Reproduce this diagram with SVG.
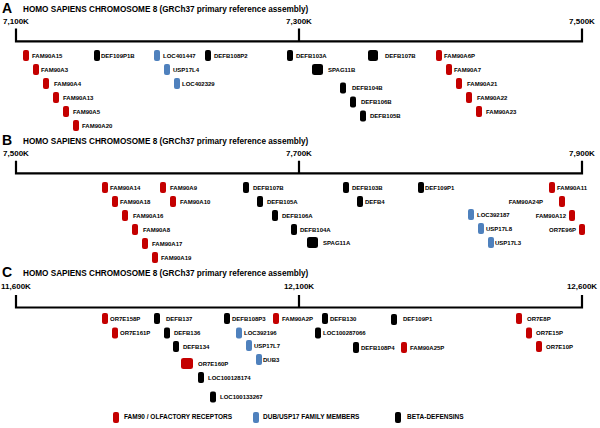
<svg xmlns="http://www.w3.org/2000/svg" width="600" height="428" viewBox="0 0 600 428">
<style>
text{font-family:"Liberation Sans",Arial,sans-serif;font-weight:bold;fill:#000}
.pl{font-size:14px}
.ti{font-size:8.2px}
.ax{font-size:8px;text-anchor:middle}
.lb{font-size:6px}
.lg{font-size:6.5px}
.e{text-anchor:end}
.axl{fill:none;stroke:#000;stroke-width:2.2}
.r{fill:#c40000}
.b{fill:#4f81bd}
.k{fill:#000}
rect{rx:2;ry:2}
</style>
<rect width="600" height="428" fill="#fff" style="rx:0"/>
<g id="axes">
<text class="pl" x="2" y="13">A</text>
<text class="ti" x="23" y="12">HOMO SAPIENS CHROMOSOME 8 (GRCh37 primary reference assembly)</text>
<text class="ax" x="16" y="24">7,100K</text><text class="ax" x="299" y="24">7,300K</text><text class="ax" x="582" y="24">7,500K</text>
<path class="axl" d="M16,28.5V41.3H582V28.5M299,28.5V41.3"/>
<text class="pl" x="2" y="145">B</text>
<text class="ti" x="23" y="144">HOMO SAPIENS CHROMOSOME 8 (GRCh37 primary reference assembly)</text>
<text class="ax" x="16" y="156">7,500K</text><text class="ax" x="299" y="156">7,700K</text><text class="ax" x="582" y="156">7,900K</text>
<path class="axl" d="M16,160.7V173.3H582V160.7M299,160.7V173.3"/>
<text class="pl" x="2" y="277">C</text>
<text class="ti" x="23" y="276">HOMO SAPIENS CHROMOSOME 8 (GRCh37 primary reference assembly)</text>
<text class="ax" x="16" y="289">11,600K</text><text class="ax" x="299" y="289">12,100K</text><text class="ax" x="582" y="289">12,600K</text>
<path class="axl" d="M16,295V307.5H582V295M299,295V307.5"/>
</g>
<g id="connectors"></g>
<!-- Panel A -->
<g id="a-FAM90A15"><rect class="r" x="23" y="50" width="6" height="11"/><text class="lb" x="32" y="57.5">FAM90A15</text></g>
<g id="a-FAM90A3"><rect class="r" x="33" y="64" width="6" height="11"/><text class="lb" x="41" y="71.5">FAM90A3</text></g>
<g id="a-FAM90A4"><rect class="r" x="43" y="78" width="6" height="11"/><text class="lb" x="54" y="85.5">FAM90A4</text></g>
<g id="a-FAM90A13"><rect class="r" x="53" y="92" width="6" height="11"/><text class="lb" x="63" y="99.5">FAM90A13</text></g>
<g id="a-FAM90A5"><rect class="r" x="63" y="106" width="6" height="11"/><text class="lb" x="73" y="113.5">FAM90A5</text></g>
<g id="a-FAM90A20"><rect class="r" x="73" y="120" width="6" height="11"/><text class="lb" x="82" y="127.5">FAM90A20</text></g>
<g id="a-DEF109P1B"><rect class="k" x="94" y="50" width="6" height="11"/><text class="lb" x="101" y="57.5">DEF109P1B</text></g>
<g id="a-LOC401447"><rect class="b" x="154" y="50" width="6" height="11"/><text class="lb" x="163" y="57.5">LOC401447</text></g>
<g id="a-USP17L4"><rect class="b" x="164" y="64" width="6" height="11"/><text class="lb" x="173" y="71.5">USP17L4</text></g>
<g id="a-LOC402329"><rect class="b" x="174" y="78" width="6" height="11"/><text class="lb" x="182" y="85.5">LOC402329</text></g>
<g id="a-DEFB108P2"><rect class="k" x="205" y="50" width="6" height="11"/><text class="lb" x="214" y="57.5">DEFB108P2</text></g>
<g id="a-DEFB103A"><rect class="k" x="287" y="50" width="6" height="11"/><text class="lb" x="296" y="57.5">DEFB103A</text></g>
<g id="a-SPAG11B"><rect class="k" x="312" y="64" width="11" height="11" style="rx:2.5"/><text class="lb" x="328" y="71.5">SPAG11B</text></g>
<g id="a-DEFB104B"><rect class="k" x="340" y="82.5" width="6" height="11"/><text class="lb" x="352" y="90">DEFB104B</text></g>
<g id="a-DEFB106B"><rect class="k" x="350" y="96.5" width="6" height="11"/><text class="lb" x="361" y="104">DEFB106B</text></g>
<g id="a-DEFB105B"><rect class="k" x="360" y="110.5" width="6" height="11"/><text class="lb" x="370" y="118">DEFB105B</text></g>
<g id="a-DEFB107B"><rect class="k" x="368" y="50" width="10" height="11" style="rx:2.5"/><text class="lb" x="385" y="57.5">DEFB107B</text></g>
<g id="a-FAM90A6P"><rect class="r" x="436" y="50" width="6" height="11"/><text class="lb" x="444" y="57.5">FAM90A6P</text></g>
<g id="a-FAM90A7"><rect class="r" x="446" y="64" width="6" height="11"/><text class="lb" x="454" y="71.5">FAM90A7</text></g>
<g id="a-FAM90A21"><rect class="r" x="456" y="78" width="6" height="11"/><text class="lb" x="467" y="85.5">FAM90A21</text></g>
<g id="a-FAM90A22"><rect class="r" x="466" y="92" width="6" height="11"/><text class="lb" x="477" y="99.5">FAM90A22</text></g>
<g id="a-FAM90A23"><rect class="r" x="476" y="106" width="6" height="11"/><text class="lb" x="486" y="113.5">FAM90A23</text></g>
<!-- Panel B -->
<g id="b-FAM90A14"><rect class="r" x="102" y="182" width="6" height="11"/><text class="lb" x="110" y="189.5">FAM90A14</text></g>
<g id="b-FAM90A18"><rect class="r" x="112" y="196" width="6" height="11"/><text class="lb" x="120" y="203.5">FAM90A18</text></g>
<g id="b-FAM90A16"><rect class="r" x="122" y="210" width="6" height="11"/><text class="lb" x="133" y="217.5">FAM90A16</text></g>
<g id="b-FAM90A8"><rect class="r" x="132" y="224" width="6" height="11"/><text class="lb" x="143" y="231.5">FAM90A8</text></g>
<g id="b-FAM90A17"><rect class="r" x="142" y="238" width="6" height="11"/><text class="lb" x="152" y="245.5">FAM90A17</text></g>
<g id="b-FAM90A19"><rect class="r" x="152" y="252" width="6" height="11"/><text class="lb" x="161" y="259.5">FAM90A19</text></g>
<g id="b-FAM90A9"><rect class="r" x="160" y="182" width="6" height="11"/><text class="lb" x="170" y="189.5">FAM90A9</text></g>
<g id="b-FAM90A10"><rect class="r" x="170" y="196" width="6" height="11"/><text class="lb" x="180" y="203.5">FAM90A10</text></g>
<g id="b-DEFB107B"><rect class="k" x="243" y="182" width="6" height="11"/><text class="lb" x="253" y="189.5">DEFB107B</text></g>
<g id="b-DEFB105A"><rect class="k" x="257" y="196" width="6" height="11"/><text class="lb" x="267" y="203.5">DEFB105A</text></g>
<g id="b-DEFB106A"><rect class="k" x="272" y="210" width="6" height="11"/><text class="lb" x="282" y="217.5">DEFB106A</text></g>
<g id="b-DEFB104A"><rect class="k" x="291" y="224" width="6" height="11"/><text class="lb" x="300" y="231.5">DEFB104A</text></g>
<g id="b-SPAG11A"><rect class="k" x="307" y="237" width="11" height="11" style="rx:2.5"/><text class="lb" x="323" y="244.5">SPAG11A</text></g>
<g id="b-DEFB103B"><rect class="k" x="343" y="182" width="6" height="11"/><text class="lb" x="352" y="189.5">DEFB103B</text></g>
<g id="b-DEFB4"><rect class="k" x="357" y="196" width="6" height="11"/><text class="lb" x="365" y="203.5">DEFB4</text></g>
<g id="b-DEF109P1"><rect class="k" x="418" y="182" width="6" height="11"/><text class="lb" x="425" y="189.5">DEF109P1</text></g>
<g id="b-LOC392187"><rect class="b" x="468" y="209" width="6" height="11"/><text class="lb" x="477" y="216.5">LOC392187</text></g>
<g id="b-USP17L8"><rect class="b" x="478" y="223" width="6" height="11"/><text class="lb" x="486" y="230.5">USP17L8</text></g>
<g id="b-USP17L3"><rect class="b" x="488" y="237" width="6" height="11"/><text class="lb" x="495" y="244.5">USP17L3</text></g>
<g id="b-FAM90A11"><rect class="r" x="549" y="182" width="6" height="11"/><text class="lb" x="557" y="189.5">FAM90A11</text></g>
<g id="b-FAM90A24P"><rect class="r" x="559" y="196" width="6" height="11"/><text class="lb e" x="543" y="203.5">FAM90A24P</text></g>
<g id="b-FAM90A12"><rect class="r" x="569" y="210" width="6" height="11"/><text class="lb e" x="566" y="217.5">FAM90A12</text></g>
<g id="b-OR7E96P"><rect class="r" x="579" y="224" width="6" height="11"/><text class="lb e" x="576" y="231.5">OR7E96P</text></g>
<!-- Panel C -->
<g id="c-OR7E158P"><rect class="r" x="102" y="313" width="6" height="11"/><text class="lb" x="110" y="320.5">OR7E158P</text></g>
<g id="c-OR7E161P"><rect class="r" x="112" y="327.5" width="6" height="11"/><text class="lb" x="120" y="335">OR7E161P</text></g>
<g id="c-DEFB137"><rect class="k" x="154" y="313" width="6" height="11"/><text class="lb" x="166" y="320.5">DEFB137</text></g>
<g id="c-DEFB136"><rect class="k" x="164" y="327.5" width="6" height="11"/><text class="lb" x="174" y="335">DEFB136</text></g>
<g id="c-DEFB134"><rect class="k" x="173" y="341" width="6" height="11"/><text class="lb" x="183" y="348.5">DEFB134</text></g>
<g id="c-OR7E160P"><rect class="r" x="181" y="358" width="12" height="11" style="rx:2.5"/><text class="lb" x="198" y="365.5">OR7E160P</text></g>
<g id="c-LOC100128174"><rect class="k" x="198" y="372" width="6" height="11"/><text class="lb" x="208" y="379.5">LOC100128174</text></g>
<g id="c-LOC100133267"><rect class="k" x="210" y="391.5" width="6" height="11"/><text class="lb" x="220" y="399">LOC100133267</text></g>
<g id="c-DEFB108P3"><rect class="k" x="224" y="313" width="6" height="11"/><text class="lb" x="232" y="320.5">DEFB108P3</text></g>
<g id="c-LOC392196"><rect class="b" x="236" y="327.5" width="6" height="11"/><text class="lb" x="244" y="335">LOC392196</text></g>
<g id="c-USP17L7"><rect class="b" x="246" y="340" width="6" height="11"/><text class="lb" x="254" y="347.5">USP17L7</text></g>
<g id="c-DUB3"><rect class="b" x="256" y="354" width="6" height="11"/><text class="lb" x="263" y="361.5">DUB3</text></g>
<g id="c-FAM90A2P"><rect class="r" x="273" y="313" width="6" height="11"/><text class="lb" x="282" y="320.5">FAM90A2P</text></g>
<g id="c-DEFB130"><rect class="k" x="322" y="313" width="6" height="11"/><text class="lb" x="330" y="320.5">DEFB130</text></g>
<g id="c-LOC100287066"><rect class="k" x="315" y="327.5" width="6" height="11"/><text class="lb" x="323" y="335">LOC100287066</text></g>
<g id="c-DEFB108P4"><rect class="k" x="353" y="342" width="6" height="11"/><text class="lb" x="361" y="349.5">DEFB108P4</text></g>
<g id="c-DEF109P1"><rect class="k" x="391" y="314" width="6" height="11"/><text class="lb" x="403" y="321">DEF109P1</text></g>
<g id="c-FAM90A25P"><rect class="r" x="401" y="342" width="6" height="11"/><text class="lb" x="410" y="349.5">FAM90A25P</text></g>
<g id="c-OR7E8P"><rect class="r" x="516" y="313" width="6" height="11"/><text class="lb" x="527" y="320.5">OR7E8P</text></g>
<g id="c-OR7E15P"><rect class="r" x="526" y="327.5" width="6" height="11"/><text class="lb" x="536" y="335">OR7E15P</text></g>
<g id="c-OR7E10P"><rect class="r" x="536" y="341" width="6" height="11"/><text class="lb" x="546" y="348.5">OR7E10P</text></g>
<!-- Legend -->
<g id="legend">
<rect class="r" x="113" y="412" width="6" height="11"/><text class="lg" x="124" y="418.5">FAM90 / OLFACTORY RECEPTORS</text>
<rect class="b" x="253" y="412" width="6" height="11"/><text class="lg" x="263" y="418.5">DUB/USP17 FAMILY MEMBERS</text>
<rect class="k" x="395" y="412" width="6" height="11"/><text class="lg" x="407" y="418.5">BETA-DEFENSINS</text>
</g>
</svg>
